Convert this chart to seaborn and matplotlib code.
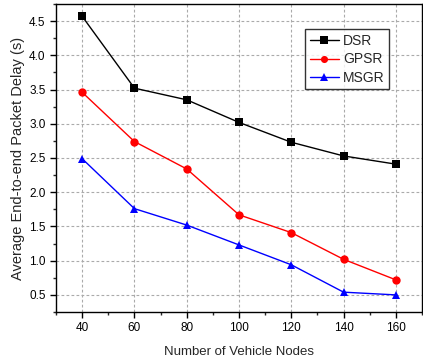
import matplotlib
matplotlib.use("Agg")
import matplotlib.pyplot as plt
import seaborn as sns
import pandas as pd
from matplotlib.ticker import MultipleLocator

nodes = [40, 60, 80, 100, 120, 140, 160]
dsr = [4.57, 3.52, 3.35, 3.02, 2.73, 2.53, 2.41]
gpsr = [3.46, 2.74, 2.34, 1.67, 1.41, 1.02, 0.72]
msgr = [2.49, 1.76, 1.52, 1.23, 0.94, 0.54, 0.50]
series_names = ["DSR", "GPSR", "MSGR"]

df = pd.DataFrame({
    "nodes": nodes * 3,
    "delay": dsr + gpsr + msgr,
    "protocol": [series_names[0]] * len(nodes) + [series_names[1]] * len(nodes) + [series_names[2]] * len(nodes),
})

sns.set_style("ticks")
plt.rcParams["font.family"] = ["Liberation Sans", "DejaVu Sans"]

fig = plt.figure(figsize=(4.23, 3.61), dpi=100)
ax = fig.add_axes([0.1324, 0.1357, 0.8652, 0.8533])

palette = {"DSR": "black", "GPSR": "#ff0000", "MSGR": "#0000ff"}
markers = {"DSR": "s", "GPSR": "o", "MSGR": "^"}
sns.lineplot(data=df, x="nodes", y="delay", hue="protocol", style="protocol",
             palette=palette, markers=markers, dashes=False, ax=ax,
             linewidth=1.0, markersize=6, markeredgewidth=0)

ax.set_xlim(30, 170)
ax.set_ylim(0.25, 4.75)
ax.xaxis.set_major_locator(MultipleLocator(20))
ax.xaxis.set_minor_locator(MultipleLocator(10))
ax.yaxis.set_major_locator(MultipleLocator(0.5))
ax.yaxis.set_minor_locator(MultipleLocator(0.25))
ax.set_xticks(nodes)
ax.set_xticklabels([str(n) for n in nodes])
ax.tick_params(axis="both", which="major", direction="out", length=4, width=1, labelsize=8.5, colors="black")
ax.tick_params(axis="both", which="minor", direction="out", length=2.5, width=1)
ax.grid(True, which="major", linestyle=(0, (2.5, 2)), color="#aaaaaa", linewidth=0.8)
for s in ax.spines.values():
    s.set_color("black")
    s.set_linewidth(1.0)

ax.set_xlabel("Number of Vehicle Nodes", fontsize=9.5, labelpad=8)
ax.set_ylabel("Average End-to-end Packet Delay (s)", fontsize=10.5, labelpad=3)

leg = ax.legend(title=None, loc="upper right", bbox_to_anchor=(0.93, 0.94),
                fontsize=10, frameon=True, fancybox=False, edgecolor="black",
                handlelength=2.1, borderpad=0.35, labelspacing=0.3, handletextpad=0.3,
                markerscale=0.85)
leg.get_frame().set_linewidth(1.0)

fig.savefig("out.png", dpi=100)
